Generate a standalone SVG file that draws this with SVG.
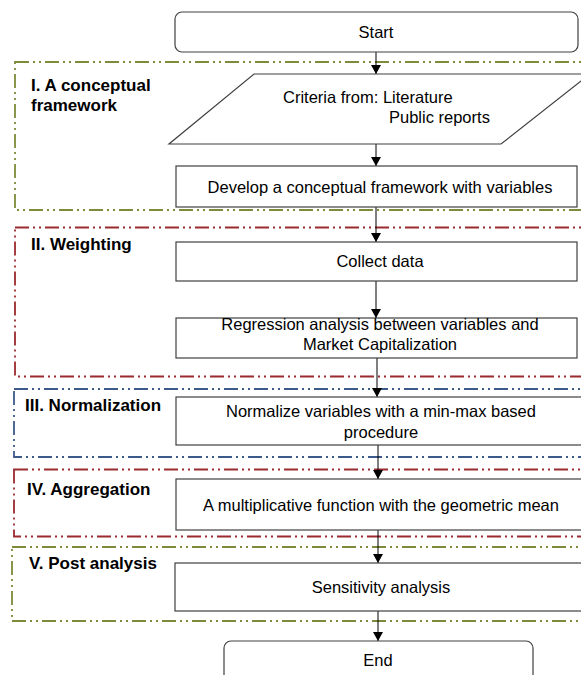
<svg xmlns="http://www.w3.org/2000/svg" width="581" height="675" viewBox="0 0 581 675">
<style>
.bg{fill:#ffffff}
.sec{fill:none;stroke-width:1.8;stroke-dasharray:14 4 2 4 2 4}
.olive{stroke:#7f8a3a}
.red{stroke:#9a2b2e}
.blue{stroke:#3d5a8a}
.box{fill:#ffffff;stroke:#404040;stroke-width:1.2}
.t{font-family:"Liberation Sans",Arial,sans-serif;font-size:16.5px;fill:#000;text-anchor:middle}
.ts{font-family:"Liberation Sans",Arial,sans-serif;font-size:16.5px;fill:#000}
.lbl{font-family:"Liberation Sans",Arial,sans-serif;font-size:17px;font-weight:bold;fill:#000}
.conn{stroke:#000;stroke-width:1;fill:none;marker-end:url(#ah)}
</style>
<defs>
<marker id="ah" markerWidth="10" markerHeight="10" refX="9" refY="5" orient="auto" markerUnits="userSpaceOnUse">
<path d="M0,0 L9,5 L0,10 Z" fill="#000"/>
</marker>
</defs>
<rect class="bg" x="0" y="0" width="581" height="675"/>
<g id="sections">
<g id="sec1"><rect class="sec olive" x="15" y="62" width="600" height="148"/><text class="lbl" x="31" y="91">I. A conceptual</text><text class="lbl" x="31" y="111">framework</text></g>
<g id="sec2"><rect class="sec red" x="15" y="227.5" width="600" height="149"/><text class="lbl" x="31" y="250">II. Weighting</text></g>
<g id="sec3"><rect class="sec blue" x="14" y="389" width="600" height="68"/><text class="lbl" x="25" y="411">III. Normalization</text></g>
<g id="sec4"><rect class="sec red" x="14" y="469.5" width="600" height="67"/><text class="lbl" x="27" y="495">IV. Aggregation</text></g>
<g id="sec5"><rect class="sec olive" x="12" y="547" width="600" height="74"/><text class="lbl" x="29" y="569">V. Post analysis</text></g>
</g>
<g id="connectors">
<line class="conn" x1="376" y1="52" x2="376" y2="74"/>
<line class="conn" x1="376" y1="144" x2="376" y2="166"/>
<line class="conn" x1="376" y1="207" x2="376" y2="242"/>
<line class="conn" x1="376" y1="281" x2="376" y2="318"/>
<line class="conn" x1="377" y1="358" x2="377" y2="397"/>
<line class="conn" x1="378" y1="445" x2="378" y2="479"/>
<line class="conn" x1="378" y1="530" x2="378" y2="563"/>
<line class="conn" x1="378" y1="611" x2="378" y2="641"/>
</g>
<g id="start"><rect class="box" x="175" y="12" width="403" height="40" rx="7"/><text class="t" x="376" y="38">Start</text></g>
<g id="criteria"><polygon class="box" points="254,74 590,74 501,144 169,144"/><text class="ts" x="283" y="103">Criteria from: Literature</text><text class="ts" x="389" y="123">Public  reports</text></g>
<g id="develop"><rect class="box" x="176" y="166" width="401" height="41"/><text class="t" x="380" y="192.5">Develop a conceptual framework with variables</text></g>
<g id="collect"><rect class="box" x="176" y="242" width="401" height="39"/><text class="t" x="380" y="267">Collect data</text></g>
<g id="regression"><rect class="box" x="176" y="318" width="401" height="40"/><text class="t" x="380" y="330">Regression analysis between variables and</text><text class="t" x="380" y="349.5">Market Capitalization</text></g>
<g id="normalize"><rect class="box" x="176" y="397" width="410" height="48"/><text class="t" x="381" y="417">Normalize variables with a min-max based</text><text class="t" x="381" y="438">procedure</text></g>
<g id="aggregate"><rect class="box" x="176" y="479" width="410" height="51"/><text class="t" x="381" y="511">A multiplicative function with the geometric mean</text></g>
<g id="sensitivity"><rect class="box" x="175" y="563" width="411" height="48"/><text class="t" x="381" y="593">Sensitivity analysis</text></g>
<g id="end"><rect class="box" x="224" y="641" width="309" height="50" rx="7"/><text class="t" x="378" y="666">End</text></g>
</svg>
